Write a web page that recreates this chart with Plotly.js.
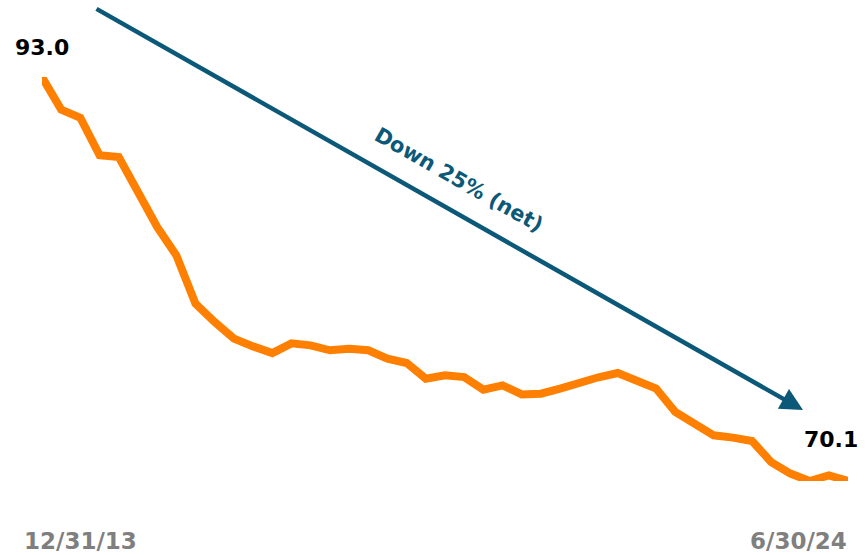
<!DOCTYPE html>
<html>
<head>
<meta charset="utf-8">
<script src="https://cdn.plot.ly/plotly-3.0.1.min.js"></script>
<style>html,body{margin:0;padding:0;background:#fff;}#chart{width:867px;height:555px;}</style>
</head>
<body>
<div id="chart"></div>
<script>
const quarters = [
  "2013-12-31","2014-03-31","2014-06-30","2014-09-30","2014-12-31",
  "2015-03-31","2015-06-30","2015-09-30","2015-12-31",
  "2016-03-31","2016-06-30","2016-09-30","2016-12-31",
  "2017-03-31","2017-06-30","2017-09-30","2017-12-31",
  "2018-03-31","2018-06-30","2018-09-30","2018-12-31",
  "2019-03-31","2019-06-30","2019-09-30","2019-12-31",
  "2020-03-31","2020-06-30","2020-09-30","2020-12-31",
  "2021-03-31","2021-06-30","2021-09-30","2021-12-31",
  "2022-03-31","2022-06-30","2022-09-30","2022-12-31",
  "2023-03-31","2023-06-30","2023-09-30","2023-12-31",
  "2024-03-31","2024-06-30"
];
const values = [
  93.0, 91.15, 90.68, 88.56, 88.46,
  86.39, 84.50, 82.89, 80.15,
  79.11, 78.17, 77.73, 77.35,
  77.90, 77.79, 77.51, 77.60,
  77.51, 77.04, 76.79, 75.90,
  76.09, 75.99, 75.28, 75.52,
  75.01, 75.05, 75.34, 75.71,
  75.98, 76.22, 75.81, 75.34,
  74.01, 73.35, 72.69, 72.56,
  72.37, 71.17, 70.52, 70.10,
  70.42, 70.10
];
const tickLabels = ["12/31/13", "6/30/24"];
const startLabel = "93.0";
const endLabel = "70.1";
const trendText = "Down 25% (net)";

const orange = "#ff8000";
const teal = "#0b5878";
const font = "DejaVu Sans, Verdana, sans-serif";

const idx = quarters.map((_, i) => i);

const W = 867, H = 555, ml = 42, mr = 19, mt = 77, mb = 74;
const pw = W - ml - mr, ph = H - mt - mb;
const px = x => (x - ml) / pw;
const py = y => (H - mb - y) / ph;

const trace = {
  x: idx,
  y: values,
  type: "scatter",
  mode: "lines",
  line: {color: orange, width: 8},
  cliponaxis: false,
  hoverinfo: "skip",
  customdata: quarters
};

const layout = {
  width: W, height: H,
  margin: {l: ml, r: mr, t: mt, b: mb, pad: 0},
  paper_bgcolor: "#ffffff",
  plot_bgcolor: "#ffffff",
  showlegend: false,
  xaxis: {range: [0, quarters.length - 1], visible: false, fixedrange: true},
  yaxis: {range: [values[values.length - 1], values[0]], visible: false, fixedrange: true},
  annotations: [
    {xref: "x", yref: "paper", x: 0, y: py(47.5), text: "<b>" + startLabel + "</b>",
     showarrow: false, xanchor: "center", yanchor: "middle",
     font: {family: font, size: 22, color: "#000"}},
    {xref: "paper", yref: "paper", x: px(831), y: py(439.5), text: "<b>" + endLabel + "</b>",
     showarrow: false, xanchor: "center", yanchor: "middle",
     font: {family: font, size: 22, color: "#000"}},
    {xref: "paper", yref: "paper", x: px(80), y: py(541), text: "<b>" + tickLabels[0] + "</b>",
     showarrow: false, xanchor: "center", yanchor: "middle",
     font: {family: font, size: 23, color: "#7f7f7f"}},
    {xref: "paper", yref: "paper", x: px(798), y: py(541), text: "<b>" + tickLabels[1] + "</b>",
     showarrow: false, xanchor: "center", yanchor: "middle",
     font: {family: font, size: 23, color: "#7f7f7f"}},
    {xref: "paper", yref: "paper", x: px(803), y: py(410), text: "",
     showarrow: true, axref: "pixel", ayref: "pixel", ax: 95 - 803, ay: 8 - 410,
     arrowhead: 2, arrowsize: 1, arrowwidth: 4.5, arrowcolor: teal, standoff: 0, startstandoff: 0},
    {xref: "paper", yref: "paper", x: px(459), y: py(180), text: "<b>" + trendText + "</b>",
     showarrow: false, xanchor: "center", yanchor: "middle", textangle: 29.6,
     font: {family: font, size: 21, color: teal}}
  ]
};

Plotly.newPlot("chart", [trace], layout, {displayModeBar: false, staticPlot: true});
</script>
</body>
</html>
